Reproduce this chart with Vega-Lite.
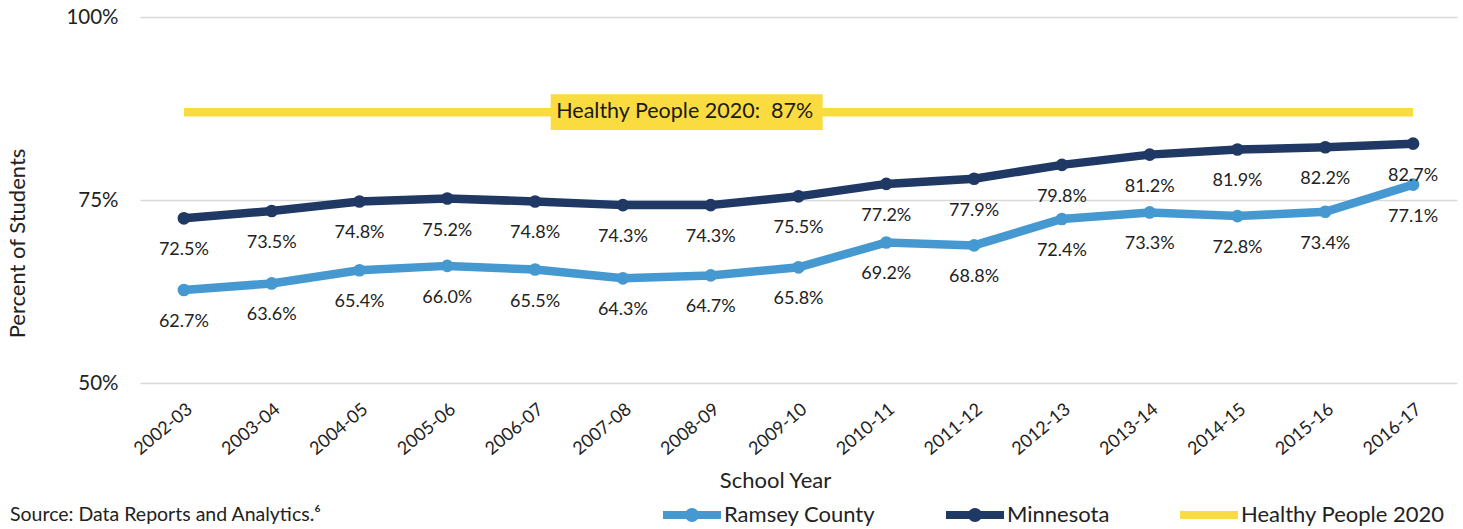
{
  "$schema": "https://vega.github.io/schema/vega-lite/v6.json",
  "width": 1317,
  "height": 366,
  "autosize": "none",
  "padding": {"left": 140, "top": 17, "right": 6, "bottom": 146},
  "background": "white",
  "config": {"font": "Lato", "view": {"stroke": null}},
  "title": {"text": "Source: Data Reports and Analytics.⁶", "orient": "bottom", "anchor": "start", "frame": "group", "dx": -130, "offset": -20, "fontSize": 19.5, "fontWeight": "normal", "color": "#222222", "font": "Lato"},
  "data": {"values": [
    {"year": "2002-03", "series": "Healthy People 2020", "value": 0.87},
    {"year": "2003-04", "series": "Healthy People 2020", "value": 0.87},
    {"year": "2004-05", "series": "Healthy People 2020", "value": 0.87},
    {"year": "2005-06", "series": "Healthy People 2020", "value": 0.87},
    {"year": "2006-07", "series": "Healthy People 2020", "value": 0.87},
    {"year": "2007-08", "series": "Healthy People 2020", "value": 0.87},
    {"year": "2008-09", "series": "Healthy People 2020", "value": 0.87},
    {"year": "2009-10", "series": "Healthy People 2020", "value": 0.87},
    {"year": "2010-11", "series": "Healthy People 2020", "value": 0.87},
    {"year": "2011-12", "series": "Healthy People 2020", "value": 0.87},
    {"year": "2012-13", "series": "Healthy People 2020", "value": 0.87},
    {"year": "2013-14", "series": "Healthy People 2020", "value": 0.87},
    {"year": "2014-15", "series": "Healthy People 2020", "value": 0.87},
    {"year": "2015-16", "series": "Healthy People 2020", "value": 0.87},
    {"year": "2016-17", "series": "Healthy People 2020", "value": 0.87},
    {"year": "2002-03", "series": "Minnesota", "value": 0.725},
    {"year": "2003-04", "series": "Minnesota", "value": 0.735},
    {"year": "2004-05", "series": "Minnesota", "value": 0.748},
    {"year": "2005-06", "series": "Minnesota", "value": 0.752},
    {"year": "2006-07", "series": "Minnesota", "value": 0.748},
    {"year": "2007-08", "series": "Minnesota", "value": 0.743},
    {"year": "2008-09", "series": "Minnesota", "value": 0.743},
    {"year": "2009-10", "series": "Minnesota", "value": 0.755},
    {"year": "2010-11", "series": "Minnesota", "value": 0.772},
    {"year": "2011-12", "series": "Minnesota", "value": 0.779},
    {"year": "2012-13", "series": "Minnesota", "value": 0.798},
    {"year": "2013-14", "series": "Minnesota", "value": 0.812},
    {"year": "2014-15", "series": "Minnesota", "value": 0.819},
    {"year": "2015-16", "series": "Minnesota", "value": 0.822},
    {"year": "2016-17", "series": "Minnesota", "value": 0.827},
    {"year": "2002-03", "series": "Ramsey County", "value": 0.627},
    {"year": "2003-04", "series": "Ramsey County", "value": 0.636},
    {"year": "2004-05", "series": "Ramsey County", "value": 0.654},
    {"year": "2005-06", "series": "Ramsey County", "value": 0.660},
    {"year": "2006-07", "series": "Ramsey County", "value": 0.655},
    {"year": "2007-08", "series": "Ramsey County", "value": 0.643},
    {"year": "2008-09", "series": "Ramsey County", "value": 0.647},
    {"year": "2009-10", "series": "Ramsey County", "value": 0.658},
    {"year": "2010-11", "series": "Ramsey County", "value": 0.692},
    {"year": "2011-12", "series": "Ramsey County", "value": 0.688},
    {"year": "2012-13", "series": "Ramsey County", "value": 0.724},
    {"year": "2013-14", "series": "Ramsey County", "value": 0.733},
    {"year": "2014-15", "series": "Ramsey County", "value": 0.728},
    {"year": "2015-16", "series": "Ramsey County", "value": 0.734},
    {"year": "2016-17", "series": "Ramsey County", "value": 0.771}
  ]},
  "encoding": {
    "x": {"field": "year", "type": "ordinal", "sort": null, "scale": {"type": "point", "padding": 0.5},
      "axis": {"title": "School Year", "labelAngle": -40, "labelFontSize": 18, "labelPadding": 17, "ticks": false, "domain": false, "grid": false, "titleFontSize": 22, "titleFontWeight": "normal", "titleX": 635, "titleY": 97, "titleBaseline": "middle", "labelColor": "#222222", "titleColor": "#222222"}},
    "y": {"field": "value", "type": "quantitative", "scale": {"domain": [0.5, 1], "nice": false, "zero": false},
      "axis": {"values": [0.5, 0.75, 1], "format": ".0%", "title": "Percent of Students", "labelFontSize": 20.5, "labelPadding": 22, "ticks": false, "domain": false, "gridColor": "#D9D9D9", "gridWidth": 1.5, "titleFontSize": 22, "titleFontWeight": "normal", "titleX": -123, "titleY": 226, "titleBaseline": "middle", "labelColor": "#222222", "titleColor": "#222222"}}
  },
  "layer": [
    {
      "mark": {"type": "line", "strokeWidth": 8.5},
      "encoding": {"color": {"field": "series", "type": "nominal",
        "scale": {"domain": ["Ramsey County", "Minnesota", "Healthy People 2020"], "range": ["#4599D0", "#203864", "#FADC41"]}}}
    },
    {
      "transform": [{"filter": "datum.series != 'Healthy People 2020'"}],
      "mark": {"type": "point", "filled": true, "opacity": 1, "size": 160},
      "encoding": {"color": {"field": "series", "type": "nominal"}}
    },
    {
      "transform": [{"filter": "datum.series == 'Healthy People 2020' && datum.year == '2008-09'"}],
      "mark": {"type": "point", "shape": "M-1,-0.132H1V0.132H-1Z", "size": 73984, "filled": true, "opacity": 1, "color": "#FADC41", "xOffset": -24}
    },
    {
      "transform": [{"filter": "datum.series == 'Healthy People 2020' && datum.year == '2008-09'"}],
      "mark": {"type": "text", "text": "Healthy People 2020:\u00a0 87%", "fontSize": 21.5, "color": "#1a1a1a", "dx": -26, "font": "Lato"}
    },
    {
      "transform": [{"filter": "datum.series != 'Healthy People 2020'"}],
      "mark": {"type": "text", "dy": 32, "fontSize": 18, "color": "#222222", "font": "Lato"},
      "encoding": {"text": {"field": "value", "type": "quantitative", "format": ".1%"}}
    },
    {
      "transform": [{"filter": "datum.series == 'none'"}],
      "mark": {"type": "point", "filled": true, "opacity": 1},
      "encoding": {
        "color": {"field": "series", "type": "nominal",
          "legend": {"title": null, "orient": "none", "direction": "horizontal", "legendX": 523, "legendY": 469, "symbolSize": 3364, "labelFontSize": 22, "labelFont": "Lato", "labelColor": "#222222", "columnPadding": 70, "labelOffset": 3, "symbolStrokeWidth": 0, "labelLimit": 400, "symbolOpacity": 1}},
        "shape": {"field": "series", "type": "nominal",
          "scale": {"domain": ["Ramsey County", "Minnesota", "Healthy People 2020"], "range": ["M-1,-0.138H1V0.138H-1Z M0.24,0A0.24,0.24 0 1 1 -0.24,0A0.24,0.24 0 1 1 0.24,0Z", "M-1,-0.138H1V0.138H-1Z M0.24,0A0.24,0.24 0 1 1 -0.24,0A0.24,0.24 0 1 1 0.24,0Z", "M-1,-0.138H1V0.138H-1Z"]}}
      }
    }
  ]
}
